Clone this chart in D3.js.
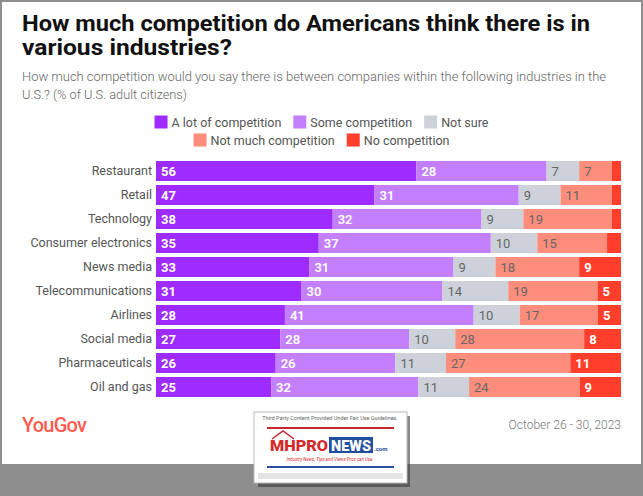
<!DOCTYPE html>
<html><head><meta charset="utf-8">
<script src="https://cdn.jsdelivr.net/npm/d3@7"></script>
<style>body{margin:0;background:#fff}svg{display:block}</style>
</head><body>
<svg id="chart" width="643" height="496"></svg>
<script>
const categories = ["Restaurant","Retail","Technology","Consumer electronics","News media","Telecommunications","Airlines","Social media","Pharmaceuticals","Oil and gas"];
const seriesNames = ["A lot of competition","Some competition","Not sure","Not much competition","No competition"];
const aLot      = [56,47,38,35,33,31,28,27,26,25];
const some      = [28,31,32,37,31,30,41,28,26,32];
const notSure   = [7,9,9,10,9,14,10,10,11,11];
const notMuch   = [7,11,19,15,18,19,17,28,27,24];
const noComp    = [2,2,2,3,9,5,5,8,11,9];
const seriesColors = ["#9e2bff","#c47fff","#cdd1da","#ff8d7c","#ff3f2b"];
const labelColors = ["#fff","#fff","#666","#666","#fff"];
const labelWeights = ["700","600","400","400","700"];
const title = ["How much competition do Americans think there is in","various industries?"];
const subtitle = ["How much competition would you say there is between companies within the following industries in the","U.S.? (% of U.S. adult citizens)"];
const dateText = "October 26 - 30, 2023";

const svg = d3.select("#chart");
const font = "Roboto, 'Liberation Sans', Arial, sans-serif";

// frame
svg.append("rect").attr("width",643).attr("height",496).attr("fill","#8e8e8e");
svg.append("rect").attr("x",2).attr("y",2).attr("width",639).attr("height",462).attr("fill","#fff");

// title
svg.append("g").selectAll("text").data(title).join("text")
  .attr("x",22).attr("y",(d,i)=>31+i*24)
  .attr("font-family",font).attr("font-weight",700).attr("font-size",22.5).attr("fill","#111")
  .attr("textLength",(d,i)=>i===0?568:210).attr("lengthAdjust","spacingAndGlyphs")
  .text(d=>d);
svg.append("g").selectAll("text").data(subtitle).join("text")
  .attr("x",22).attr("y",(d,i)=>81+i*18)
  .attr("font-family",font).attr("font-weight",300).attr("font-size",12).attr("fill","#666")
  .attr("textLength",(d,i)=>i===0?584:165).attr("lengthAdjust","spacingAndGlyphs")
  .text(d=>d);

// legend
const legendRows = [[0,1,2],[3,4]];
const legendY = [122,140];
legendRows.forEach((row,ri)=>{
  const g = svg.append("g");
  let x = 0;
  row.forEach(si=>{
    const it = g.append("g").attr("transform",`translate(${x},0)`);
    it.append("rect").attr("x",0).attr("y",-6.5).attr("width",13).attr("height",13).attr("fill",seriesColors[si]);
    const t = it.append("text").attr("x",17).attr("y",4.5).attr("font-family",font).attr("font-size",12.5)
      .attr("fill","#555").text(seriesNames[si]);
    x += 17 + t.node().getComputedTextLength() + 12;
  });
  const w = x - 12;
  g.attr("transform",`translate(${321.5 - w/2},${legendY[ri]})`);
});

// chart
const rows = categories.map((c,i)=>({cat:c, v0:aLot[i], v1:some[i], v2:notSure[i], v3:notMuch[i], v4:noComp[i]}));
const raw = rows.map(r=>[r.v0,r.v1,r.v2,r.v3,r.v4]);
const stack = d3.stack().keys(["v0","v1","v2","v3","v4"]).offset(d3.stackOffsetExpand);
const series = stack(rows);
const x = d3.scaleLinear().domain([0,1]).range([156,621]);
const y = d3.scaleBand().domain(categories).range([159,399]).paddingInner(1/6).paddingOuter(1/12);

const sg = svg.append("g").selectAll("g").data(series).join("g").attr("fill",(d,i)=>seriesColors[i]);
sg.selectAll("rect").data(d=>d).join("rect")
  .attr("x",d=>x(d[0])).attr("y",d=>y(d.data.cat))
  .attr("width",d=>x(d[1])-x(d[0])).attr("height",y.bandwidth());

series.forEach((s,si)=>{
  svg.append("g").selectAll("text").data(s.filter((d,i)=>raw[i][si]>=5)).join("text")
    .attr("x",d=>x(d[0])+5).attr("y",d=>y(d.data.cat)+y.bandwidth()/2+4.5)
    .attr("font-family",font).attr("font-size",13).attr("font-weight",labelWeights[si])
    .attr("fill",labelColors[si])
    .text(d=>d.data["v"+si]);
});

// category axis
const yAxis = svg.append("g").attr("transform","translate(152,0)")
  .call(d3.axisLeft(y).tickSize(0).tickPadding(0));
yAxis.select(".domain").remove();
yAxis.selectAll("text").attr("font-family",font).attr("font-size",12.5).attr("fill","#555");

// footer
svg.append("text").attr("x",22).attr("y",432).attr("font-family",font).attr("font-weight",500)
  .attr("font-size",20).attr("fill","#ff5c50").attr("letter-spacing",-0.8).text("YouGov");
svg.append("text").attr("x",621).attr("y",429).attr("text-anchor","end").attr("font-family",font)
  .attr("font-size",12).attr("font-weight",300).attr("fill","#777").text(dateText);

// watermark logo
const lg = svg.append("g");
lg.append("rect").attr("x",258).attr("y",416).attr("width",152).attr("height",71).attr("fill","#3a3a3a").attr("opacity",0.6);
lg.append("rect").attr("x",254).attr("y",412).attr("width",153).attr("height",71).attr("fill","#fff").attr("stroke","#bbb");
lg.append("text").attr("x",330).attr("y",420).attr("text-anchor","middle").attr("font-family",font)
  .attr("font-size",5.5).attr("fill","#666").text("Third Party Content Provided Under Fair Use Guidelines.");
lg.append("rect").attr("x",267).attr("y",427).attr("width",127).attr("height",2).attr("fill","#c8262e");
lg.append("path").attr("d","M272,439 L283,431 L294,439").attr("fill","none").attr("stroke","#c8262e").attr("stroke-width",1.5);
lg.append("text").attr("x",270).attr("y",451).attr("font-family",font).attr("font-weight",900)
  .attr("font-size",15).attr("fill","#d42a2a").attr("textLength",58).attr("lengthAdjust","spacingAndGlyphs").text("MHPRO");
lg.append("rect").attr("x",329).attr("y",437).attr("width",44).attr("height",16).attr("fill","#1f4f9e");
lg.append("text").attr("x",331).attr("y",451).attr("font-family",font).attr("font-weight",900)
  .attr("font-size",15).attr("fill","#fff").attr("textLength",40).attr("lengthAdjust","spacingAndGlyphs").text("NEWS");
lg.append("text").attr("x",374).attr("y",451).attr("font-family",font).attr("font-weight",700)
  .attr("font-size",6).attr("fill","#1f4f9e").text(".com");
lg.append("text").attr("x",330).attr("y",461).attr("text-anchor","middle").attr("font-family",font).attr("font-style","italic")
  .attr("font-size",4.5).attr("fill","#d42a2a").text("Industry News, Tips and Views Pros can Use.");
lg.append("rect").attr("x",267).attr("y",466).attr("width",127).attr("height",2).attr("fill","#2a4fa0");
lg.append("rect").attr("x",258).attr("y",473).attr("width",145).attr("height",6).attr("fill","#e4e4e4");
</script>
</body></html>
